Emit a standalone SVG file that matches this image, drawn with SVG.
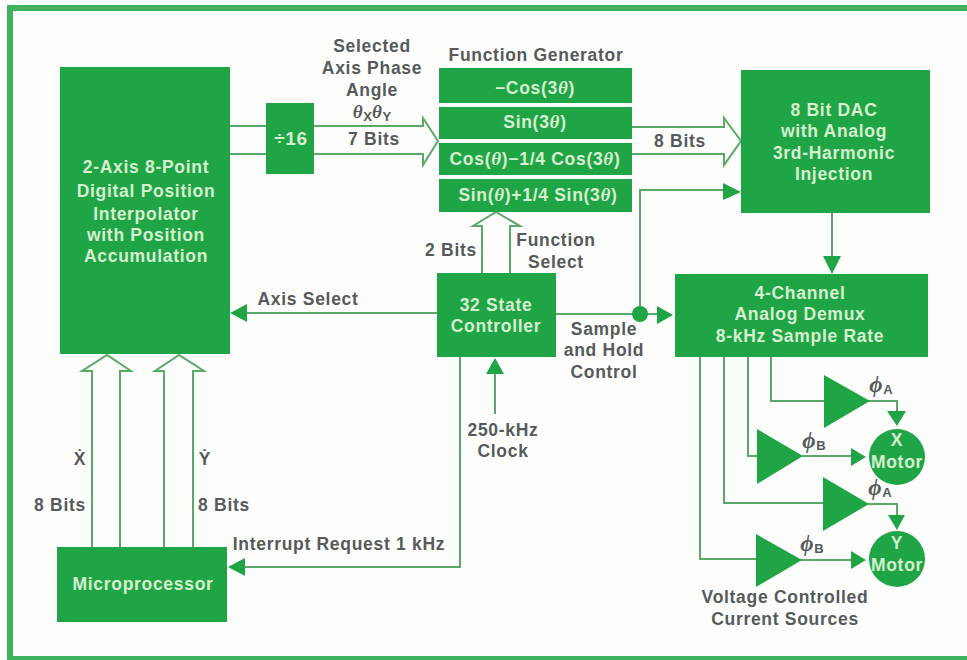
<svg xmlns="http://www.w3.org/2000/svg" width="967" height="660" viewBox="0 0 967 660">
<style>
text{font-family:"Liberation Sans",Arial,sans-serif;font-weight:bold;font-size:17.5px;letter-spacing:.7px;text-anchor:middle;fill:#565a5c}
.w{fill:#d6f0cf}
.g{fill:#1fa546}
.l{fill:none;stroke:#5aa86a;stroke-width:2}
.h{fill:#fdfefb;stroke:#5aa86a;stroke-width:2}
.m{font-family:"Liberation Serif",serif;font-style:italic;font-size:19px}
.s{font-size:13px;letter-spacing:0}
</style>
<rect width="967" height="660" fill="#fdfefb"/>
<path fill="#3fb35c" d="M7 5H967V11H13V656H967V660H7Z"/>
<g id="connectors">
<path class="l" d="M230 126H266M230 154H266"/>
<path class="h" d="M314 126H423V118L438 141L423 165V154H314" />
<path class="h" d="M632 127H724V118L741 141L724 165V154H632"/>
<path class="h" d="M482 273V226H473L496 212L520 226H510V273"/>
<path class="h" d="M92 547V371H82L107 355L131 371H120V547"/>
<path class="h" d="M164 547V371H155L179 355L204 371H193V547"/>
<path class="l" d="M437 313H244"/><path class="g" d="M230 313L247 304V322Z"/>
<path class="l" d="M460 357V567H244"/><path class="g" d="M228 567L245 558V576Z"/>
<path class="l" d="M495 414V372"/><path class="g" d="M495 358L504 374H486Z"/>
<path class="l" d="M556 314H660M640 314V190H726"/><circle class="g" cx="640" cy="314" r="8"/>
<path class="g" d="M673 315L657 306V324Z"/><path class="g" d="M741 192L723 183V200Z"/>
<path class="l" d="M832 213V258"/><path class="g" d="M832 274L823 256H841Z"/>
<path class="l" d="M771 357V401H826M748 357V456H759M724 357V503H825M700 357V559H758"/>
<path class="l" d="M868 401H897V412M802 456H852M867 504H897V516M800 560H852"/>
<path class="g" d="M897 426L887 411H906ZM866 457L851 448V466ZM897 530L888 515H905ZM866 560L851 551V569Z"/>
</g>
<g id="interpolator"><rect class="g" x="60" y="67" width="170" height="287"/>
<text class="w" x="146" y="173">2-Axis 8-Point</text><text class="w" x="146" y="197">Digital Position</text><text class="w" x="146" y="220">Interpolator</text><text class="w" x="146" y="241">with Position</text><text class="w" x="146" y="262">Accumulation</text></g>
<g id="div16"><rect class="g" x="266" y="103" width="48" height="71"/><text class="w" x="291" y="145" style="font-size:19px">÷16</text></g>
<g id="function-generator">
<rect class="g" x="439" y="68" width="193" height="35"/><rect class="g" x="439" y="107" width="193" height="32"/><rect class="g" x="439" y="143" width="193" height="32"/><rect class="g" x="439" y="179" width="193" height="33"/>
<text class="w" x="535" y="94">−Cos(3<tspan class="m">θ</tspan>)</text>
<text class="w" x="535" y="128">Sin(3<tspan class="m">θ</tspan>)</text>
<text class="w" x="535" y="165">Cos(<tspan class="m">θ</tspan>)−1/4 Cos(3<tspan class="m">θ</tspan>)</text>
<text class="w" x="538" y="201">Sin(<tspan class="m">θ</tspan>)+1/4 Sin(3<tspan class="m">θ</tspan>)</text>
</g>
<g id="dac"><rect class="g" x="741" y="70" width="189" height="143"/><text class="w" x="834" y="116">8 Bit DAC</text><text class="w" x="834" y="137">with Analog</text><text class="w" x="834" y="159">3rd-Harmonic</text><text class="w" x="834" y="180">Injection</text></g>
<g id="controller"><rect class="g" x="437" y="273" width="119" height="84"/><text class="w" x="496" y="311">32 State</text><text class="w" x="496" y="332">Controller</text></g>
<g id="demux"><rect class="g" x="675" y="274" width="253" height="83"/><text class="w" x="800" y="299">4-Channel</text><text class="w" x="800" y="320">Analog Demux</text><text class="w" x="800" y="342">8-kHz Sample Rate</text></g>
<g id="microprocessor"><rect class="g" x="57" y="547" width="170" height="75"/><text class="w" x="143" y="590">Microprocessor</text></g>
<g id="amp-a-x"><path class="g" d="M824 375L870 401L824 428Z"/></g>
<g id="amp-b-x"><path class="g" d="M757 429L803 456L757 484Z"/></g>
<g id="amp-a-y"><path class="g" d="M823 477L869 504L823 531Z"/></g>
<g id="amp-b-y"><path class="g" d="M756 534L802 560L756 587Z"/></g>
<g id="x-motor"><circle class="g" cx="897" cy="457" r="28"/><text class="w" x="897" y="446">X</text><text class="w" x="897" y="468">Motor</text></g>
<g id="y-motor"><circle class="g" cx="897" cy="559" r="28"/><text class="w" x="897" y="549">Y</text><text class="w" x="897" y="571">Motor</text></g>
<g id="labels">
<text x="372" y="52">Selected</text><text x="372" y="74">Axis Phase</text><text x="372" y="96">Angle</text>
<text x="372" y="118"><tspan class="m">θ</tspan><tspan class="s" dy="3">X</tspan><tspan class="m" dy="-3">θ</tspan><tspan class="s" dy="3">Y</tspan></text>
<text x="374" y="145">7 Bits</text>
<text x="536" y="61">Function Generator</text>
<text x="680" y="147">8 Bits</text>
<text x="451" y="256">2 Bits</text>
<text x="556" y="246">Function</text><text x="556" y="268">Select</text>
<text x="308" y="305">Axis Select</text>
<text x="604" y="335">Sample</text><text x="604" y="356">and Hold</text><text x="604" y="378">Control</text>
<text x="503" y="436">250-kHz</text><text x="503" y="457">Clock</text>
<text x="339" y="550">Interrupt Request 1 kHz</text>
<text x="80" y="465">Ẋ</text><text x="205" y="465">Ẏ</text>
<text x="60" y="511">8 Bits</text><text x="224" y="511">8 Bits</text>
<text x="785" y="603">Voltage Controlled</text><text x="785" y="625">Current Sources</text>
<text x="881" y="392"><tspan class="m" style="font-size:23px">ϕ</tspan><tspan class="s" dy="2">A</tspan></text>
<text x="814" y="448"><tspan class="m" style="font-size:23px">ϕ</tspan><tspan class="s" dy="2">B</tspan></text>
<text x="880" y="495"><tspan class="m" style="font-size:23px">ϕ</tspan><tspan class="s" dy="2">A</tspan></text>
<text x="812" y="551"><tspan class="m" style="font-size:23px">ϕ</tspan><tspan class="s" dy="2">B</tspan></text>
</g>
</svg>
